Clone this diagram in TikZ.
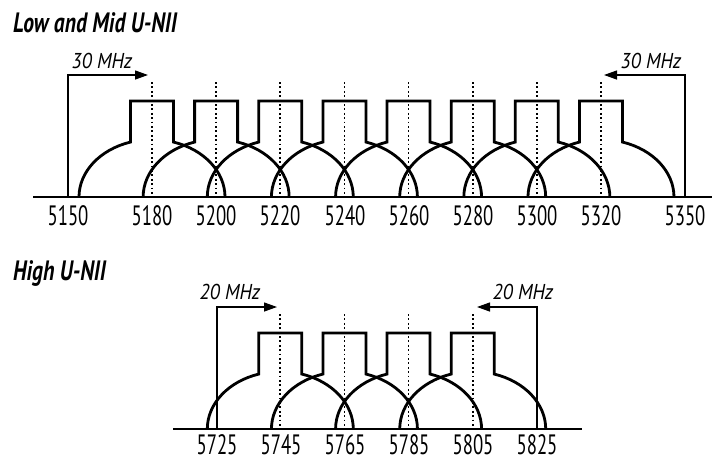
\documentclass[tikz,border=0pt]{standalone}
\usepackage{fontspec}
\newfontfamily\chanfont{PT Sans}[FakeStretch=0.67]
\newfontfamily\titlefont{PT Sans}[FakeStretch=0.77]
\newfontfamily\spanfont{PT Sans}[FakeStretch=0.9]
\usetikzlibrary{arrows.meta}

\begin{document}
\begin{tikzpicture}[
    x=1pt, y=-1pt,
    every node/.style={font=\chanfont\fontsize{28}{28}\selectfont, inner sep=0pt, text depth=0pt},
    chanmask/.style={line width=2.8pt, line join=miter},
    axisline/.style={line width=1.6pt},
    chanline/.style={line width=1.7pt, dash pattern=on 1.8pt off 2.6pt},
    bracket/.style={line width=1.3pt, -{Triangle[length=13pt,width=9pt]}},
    bandtitle/.style={font=\titlefont\bfseries\itshape\fontsize{28}{28}\selectfont, anchor=base west},
    freqlabel/.style={anchor=base},
    widthlabel/.style={font=\spanfont\itshape\fontsize{21.5}{21.5}\selectfont, anchor=base}
]
\useasboundingbox (0,0) rectangle (714,461);

% Low and Mid U-NII
\node[bandtitle] (lowmid) at (13,32) {Low and Mid U-NII};
\coordinate (lmstart) at (33,197);
\coordinate (lmend) at (712,197);
\draw[axisline] (lmstart) -- (lmend);
\foreach \i in {0,...,7} {
    \pgfmathsetmacro{\c}{152+64.14*\i}
    \draw[chanline] (\c,82) -- (\c,197);
    \draw[chanmask] (\c-73,197) arc[start angle=180, end angle=107.13, x radius=73pt, y radius=57.5pt]
        -- (\c-21.5,101) -- (\c+21.5,101) -- (\c+21.5,142.05)
        arc[start angle=72.87, end angle=0, x radius=73pt, y radius=57.5pt];
}
\foreach \f/\x in {5150/68, 5180/152, 5200/216, 5220/280, 5240/345, 5260/409, 5280/473, 5300/537, 5320/601, 5350/685}
    \node[freqlabel] (f\f) at (\x,225) {\f};
\coordinate (lowfoot) at (68,197);
\coordinate (lowtip) at (148,75);
\draw[bracket] (lowfoot) |- (lowtip);
\node[widthlabel] (lowspan) at (102,68) {30 MHz};
\coordinate (midfoot) at (685,197);
\coordinate (midtip) at (604,75);
\draw[bracket] (midfoot) |- (midtip);
\node[widthlabel] (midspan) at (651,68) {30 MHz};

% High U-NII
\node[bandtitle] (high) at (13,280) {High U-NII};
\coordinate (hstart) at (173,429);
\coordinate (hend) at (582,429);
\draw[axisline] (hstart) -- (hend);
\foreach \i in {0,...,3} {
    \pgfmathsetmacro{\c}{280.3+64.14*\i}
    \draw[chanline] (\c,314) -- (\c,429);
    \draw[chanmask] (\c-73,429) arc[start angle=180, end angle=107.13, x radius=73pt, y radius=57.5pt]
        -- (\c-21.5,333) -- (\c+21.5,333) -- (\c+21.5,374.05)
        arc[start angle=72.87, end angle=0, x radius=73pt, y radius=57.5pt];
}
\foreach \f/\x in {5725/217, 5745/281, 5765/345, 5785/409, 5805/473, 5825/537}
    \node[freqlabel] (f\f) at (\x,454.5) {\f};
\coordinate (highfoot) at (217,429);
\coordinate (hightip) at (277,307);
\draw[bracket] (highfoot) |- (hightip);
\node[widthlabel] (highspan) at (230,299) {20 MHz};
\coordinate (topfoot) at (537,429);
\coordinate (toptip) at (477,307);
\draw[bracket] (topfoot) |- (toptip);
\node[widthlabel] (topspan) at (523,299) {20 MHz};
\end{tikzpicture}
\end{document}
